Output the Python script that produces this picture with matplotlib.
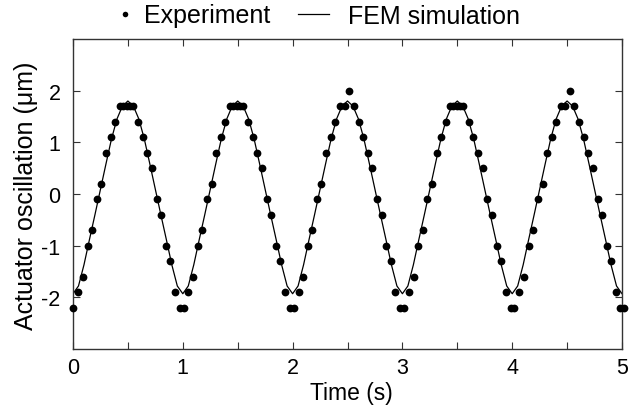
import matplotlib
matplotlib.use('Agg')
import matplotlib.pyplot as plt
from matplotlib.ticker import MultipleLocator
from matplotlib.lines import Line2D

# ---------------- data ----------------
exp_t = [0.000, 0.048, 0.088, 0.134, 0.176, 0.216, 0.258, 0.300, 0.343, 0.385,
         0.428, 0.458, 0.489, 0.519, 0.549, 0.595, 0.635, 0.677, 0.720, 0.762,
         0.803, 0.844, 0.886, 0.929, 0.978, 1.012, 1.050, 1.093, 1.136, 1.178,
         1.220, 1.263, 1.305, 1.348, 1.388, 1.430, 1.460, 1.490, 1.520, 1.550,
         1.597, 1.637, 1.679, 1.721, 1.764, 1.803, 1.846, 1.888, 1.931, 1.976,
         2.013, 2.058, 2.098, 2.140, 2.180, 2.222, 2.262, 2.304, 2.347, 2.389,
         2.432, 2.474, 2.516, 2.559, 2.602, 2.644, 2.684, 2.726, 2.766, 2.811,
         2.851, 2.893, 2.935, 2.978, 3.015, 3.060, 3.103, 3.145, 3.185, 3.227,
         3.270, 3.312, 3.354, 3.397, 3.433, 3.464, 3.494, 3.524, 3.555, 3.607,
         3.646, 3.692, 3.731, 3.773, 3.816, 3.859, 3.898, 3.941, 3.985, 4.020,
         4.065, 4.110, 4.153, 4.193, 4.235, 4.278, 4.317, 4.360, 4.402, 4.442,
         4.484, 4.526, 4.566, 4.609, 4.651, 4.693, 4.736, 4.779, 4.820, 4.860,
         4.903, 4.945, 4.985, 5.015]
exp_y = [-2.2, -1.9, -1.6, -1.0, -0.7, -0.1, 0.2, 0.8, 1.1, 1.4,
         1.7, 1.7, 1.7, 1.7, 1.7, 1.4, 1.1, 0.8, 0.5, -0.1,
         -0.4, -1.0, -1.3, -1.9, -2.2, -2.2, -1.9, -1.6, -1.0, -0.7,
         -0.1, 0.2, 0.8, 1.1, 1.4, 1.7, 1.7, 1.7, 1.7, 1.7,
         1.4, 1.1, 0.8, 0.5, -0.1, -0.4, -1.0, -1.3, -1.9, -2.2,
         -2.2, -1.9, -1.6, -1.0, -0.7, -0.1, 0.2, 0.8, 1.1, 1.4,
         1.7, 1.7, 2.0, 1.7, 1.4, 1.1, 0.8, 0.5, -0.1, -0.4,
         -1.0, -1.3, -1.9, -2.2, -2.2, -1.9, -1.6, -1.0, -0.7, -0.1,
         0.2, 0.8, 1.1, 1.4, 1.7, 1.7, 1.7, 1.7, 1.7, 1.4,
         1.1, 0.8, 0.5, -0.1, -0.4, -1.0, -1.3, -1.9, -2.2, -2.2,
         -1.9, -1.6, -1.0, -0.7, -0.1, 0.2, 0.8, 1.1, 1.4, 1.7,
         1.7, 2.0, 1.7, 1.4, 1.1, 0.8, 0.5, -0.1, -0.4, -1.0,
         -1.3, -1.9, -2.2, -2.2]

# FEM simulation: one period read at 0.05 s steps (periodic, 5 periods)
sim_cycle = [-1.93, -1.78, -1.37, -0.88, -0.40, 0.09, 0.58, 1.06, 1.45, 1.70,
             1.80, 1.70, 1.45, 1.06, 0.58, 0.09, -0.40, -0.88, -1.37, -1.78]
sim_y = sim_cycle * 5 + [-1.93]
sim_t = [i * 0.05 for i in range(len(sim_y))]

x_ticks = [0, 1, 2, 3, 4, 5]
y_ticks = [-2, -1, 0, 1, 2]
x_label = 'Time (s)'
y_label = 'Actuator oscillation (\u03bcm)'
legend_labels = ['Experiment', 'FEM simulation']

# ---------------- figure ----------------
plt.rcParams['font.family'] = ['Liberation Sans', 'DejaVu Sans']
plt.rcParams['axes.unicode_minus'] = False

W, H = 629, 410
fig = plt.figure(figsize=(W / 100, H / 100), dpi=100)
ax = fig.add_axes([73 / W, 1 - 350 / H, (622 - 73) / W, (350 - 40) / H])

ax.plot(sim_t, sim_y, color='black', lw=0.9, zorder=2)
ax.plot(exp_t, exp_y, 'o', color='black', ms=5.6, mec='none', clip_on=False, zorder=3)

ax.set_xlim(0, 5)
ax.set_ylim(-3, 3)
ax.set_xticks(x_ticks)
ax.xaxis.set_minor_locator(MultipleLocator(0.5))
ax.set_yticks(y_ticks)

spine_c = '#333333'
for s in ax.spines.values():
    s.set_color(spine_c)
    s.set_linewidth(1.0)
ax.tick_params(which='both', direction='in', top=True, right=True,
               length=5, width=0.8, color=spine_c)
ax.tick_params(which='major', labelsize=15.5)
ax.tick_params(axis='x', pad=6)
ax.tick_params(axis='y', pad=9)

fig.text(351 / W, 1 - 400 / H, x_label, fontsize=16.5, ha='center', va='baseline')
fig.text(33 / W, 1 - 195.5 / H, y_label, fontsize=18, ha='center', va='baseline',
         rotation=90, rotation_mode='anchor')

h1 = Line2D([], [], ls='none', marker='o', ms=4.0, color='black', mec='none')
h2 = Line2D([], [], color='black', lw=0.9)
leg1 = fig.legend([h1], [legend_labels[0]], loc='center left',
                  bbox_to_anchor=(109 / W, 1 - 16.5 / H), frameon=False,
                  fontsize=18, handlelength=1.25, handletextpad=0.16,
                  borderpad=0, borderaxespad=0, numpoints=1)
leg2 = fig.legend([h2], [legend_labels[1]], loc='center left',
                  bbox_to_anchor=(298 / W, 1 - 16.5 / H), frameon=False,
                  fontsize=18, handlelength=1.25, handletextpad=0.74,
                  borderpad=0, borderaxespad=0)

fig.savefig('out.png', dpi=100)
